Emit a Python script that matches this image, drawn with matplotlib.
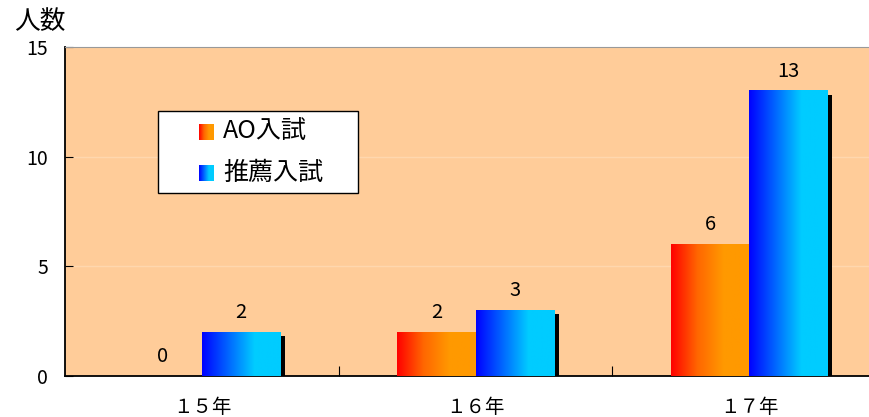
import numpy as np
import matplotlib
matplotlib.use("Agg")
import matplotlib.pyplot as plt
from matplotlib.colors import LinearSegmentedColormap
from matplotlib.patches import Rectangle

plt.rcParams['font.family'] = ['Noto Sans CJK JP', 'DejaVu Sans']

years = ['１５年', '１６年', '１７年']
ao = [0, 2, 6]
suisen = [2, 3, 13]
series_names = ['AO入試', '推薦入試']

cmap_ao = LinearSegmentedColormap.from_list('ao', ['#FF0000', '#FF6600', '#FF9900', '#FF9900'])
cmap_su = LinearSegmentedColormap.from_list('su', ['#0000FF', '#0066FF', '#00CCFF', '#00CCFF'])
grad = np.linspace(0, 1, 256).reshape(1, -1)

fig = plt.figure(figsize=(8.7, 4.17), dpi=100)
ax = fig.add_axes([65 / 870, 1 - 376 / 417, 806 / 870, 329 / 417])
ax.set_facecolor('#FFCC99')

x = np.arange(len(years))
w = 0.286
xlim = (-0.501, 2.445)

# shadows
dx, dy = 0.018, 0.18
for vals, off in ((ao, -w / 2), (suisen, w / 2)):
    for xi, v in zip(x, vals):
        if v > 0:
            ax.bar(xi + off + dx, v - dy, w, color='black', zorder=2)

for vals, off, cm, z in ((ao, -w / 2, cmap_ao, 3), (suisen, w / 2, cmap_su, 4)):
    bars = ax.bar(x + off, vals, w, color='none', zorder=z)
    for b, v in zip(bars, vals):
        if v > 0:
            ax.imshow(grad, cmap=cm, aspect='auto', zorder=z,
                      extent=(b.get_x(), b.get_x() + b.get_width(), 0, v))
        ax.text(b.get_x() + b.get_width() / 2, v + 0.42, str(v),
                ha='center', va='bottom', fontsize=14.5, zorder=6)

ax.set_xlim(*xlim)
ax.set_ylim(0, 15)
ax.set_yticks([0, 5, 10, 15])
ax.yaxis.grid(True, color='#FFD7AE', lw=1)
ax.set_axisbelow(True)
ax.tick_params(axis='y', direction='in', length=6, labelsize=14, pad=12)
ax.set_xticks([0.5, 1.5])
ax.set_xticklabels([])
ax.set_xticks(x, minor=True)
ax.set_xticklabels(years, minor=True)
ax.tick_params(axis='x', which='major', direction='in', length=7)
ax.tick_params(axis='x', which='minor', length=0, labelsize=14, pad=15)
ax.spines['top'].set_color('#999999')
ax.spines['right'].set_visible(False)
ax.spines['left'].set_linewidth(1.3)
ax.spines['bottom'].set_linewidth(1.3)

fig.text(14 / 870, 1 - 22 / 417, '人数', fontsize=18.5, va='center', ha='left')

# legend box
lx0, lx1, ly0, ly1 = 158 / 870, 358 / 870, 1 - 193 / 417, 1 - 111 / 417
fig.patches.append(Rectangle((lx0, ly0), lx1 - lx0, ly1 - ly0, transform=fig.transFigure,
                             facecolor='white', edgecolor='black', lw=1, zorder=10))
for name, cm, yc in ((series_names[0], cmap_ao, 132), (series_names[1], cmap_su, 173)):
    sw = fig.add_axes([199 / 870, 1 - (yc + 8) / 417, 15 / 870, 16 / 417], zorder=11)
    sw.imshow(grad, cmap=cm, aspect='auto')
    sw.axis('off')
    fig.text(223 / 870, 1 - yc / 417, name, fontsize=18, va='center', ha='left', zorder=12)

fig.savefig('out.png', dpi=100)
